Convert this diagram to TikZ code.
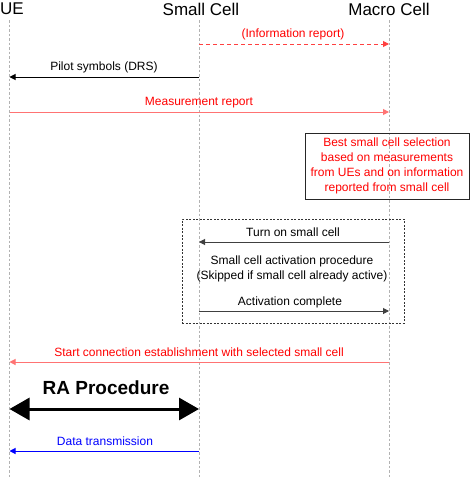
\documentclass[tikz,border=0pt]{standalone}
\usepackage{fontspec}
\setmainfont{Liberation Sans}
\usetikzlibrary{arrows.meta}
\tikzset{
  life/.style={draw=black!30, line width=0.8pt, dash pattern=on 2.5pt off 2pt},
  msg/.style={line width=1pt, -{Triangle[length=6pt,width=6pt]}},
  redmsg/.style={msg, draw=red!55, color=red!55},
  blackmsg/.style={msg, draw=black!65, color=black!75},
  bluemsg/.style={msg, draw=blue, color=blue},
  lbl/.style={font=\fontsize{12}{14}\selectfont, inner sep=0pt},
  hdr/.style={font=\fontsize{17}{19}\selectfont, inner sep=0pt},
}
\begin{document}
\begin{tikzpicture}[x=1pt,y=-1pt]
\useasboundingbox[fill=white] (0,0) rectangle (471,477);
% headers
\node[hdr, anchor=west] (hUE) at (0,9) {UE};
\node[hdr] (hSC) at (201,9) {Small Cell};
\node[hdr] (hMC) at (389,9) {Macro Cell};
% lifelines
\coordinate (ueT) at (9.5,20); \coordinate (ueB) at (9.5,477);
\coordinate (scT) at (199,20); \coordinate (scB) at (199,477);
\coordinate (mcT) at (389,20); \coordinate (mcB) at (389,477);
\draw[life] (ueT) -- (ueB);
\draw[life] (scT) -- (scB);
\draw[life] (mcT) -- (mcB);
% 1 information report
\coordinate (sc1) at (199,44); \coordinate (mc1) at (389,44);
\draw[msg, draw=red!75, color=red!75, dash pattern=on 4pt off 3pt] (sc1) -- (mc1);
\node[lbl, text=red] (l1) at (293,34) {(Information report)};
% 2 pilot symbols
\coordinate (sc2) at (199,77); \coordinate (ue2) at (9.5,77);
\draw[msg, draw=black, color=black] (sc2) -- (ue2);
\node[lbl] (l2) at (104,67) {Pilot symbols (DRS)};
% 3 measurement report
\coordinate (ue3) at (9.5,112); \coordinate (mc3) at (389,112);
\draw[redmsg] (ue3) -- (mc3);
\node[lbl, text=red] (l3) at (199,103) {Measurement report};
% selection box
\node[draw=black!85, line width=0.8pt, minimum width=164pt, minimum height=66pt, inner sep=0pt,
      align=center, text=red, font=\fontsize{12}{15}\selectfont] (sel) at (387,166)
  {Best small cell selection\\based on measurements\\from UEs and on information\\reported from small cell};
% dashed activation box
\node[draw=black!80, dash pattern=on 2pt off 1.5pt, line width=0.8pt, minimum width=222pt, minimum height=104pt, inner sep=0pt] (act) at (293,271) {};
% turn on small cell
\coordinate (mc6) at (389,242); \coordinate (sc6) at (199,242);
\draw[blackmsg] (mc6) -- (sc6);
\node[lbl] (l6) at (293,232) {Turn on small cell};
\node[lbl, align=center, font=\fontsize{12}{15}\selectfont] (l7) at (292,268.5)
  {Small cell activation procedure\\(Skipped if small cell already active)};
% activation complete
\coordinate (sc8) at (199,311); \coordinate (mc8) at (389,311);
\draw[blackmsg] (sc8) -- (mc8);
\node[lbl] (l8) at (290,302) {Activation complete};
% start connection
\coordinate (mc9) at (389,362); \coordinate (ue9) at (9.5,362);
\draw[redmsg] (mc9) -- (ue9);
\node[lbl, text=red] (l9) at (199,352) {Start connection establishment with selected small cell};
% RA procedure
\node[inner sep=0pt, font=\fontsize{19}{21}\selectfont\bfseries] (ra) at (106,388) {RA Procedure};
\coordinate (ue10) at (9.5,409); \coordinate (sc10) at (199,409);
\draw[line width=3pt, {Triangle[length=20pt,width=22pt]}-{Triangle[length=20pt,width=22pt]}] (ue10) -- (sc10);
% data transmission
\coordinate (sc11) at (199,451); \coordinate (ue11) at (9.5,451);
\draw[bluemsg] (sc11) -- (ue11);
\node[lbl, text=blue] (l11) at (105,441) {Data transmission};
\end{tikzpicture}
\end{document}
